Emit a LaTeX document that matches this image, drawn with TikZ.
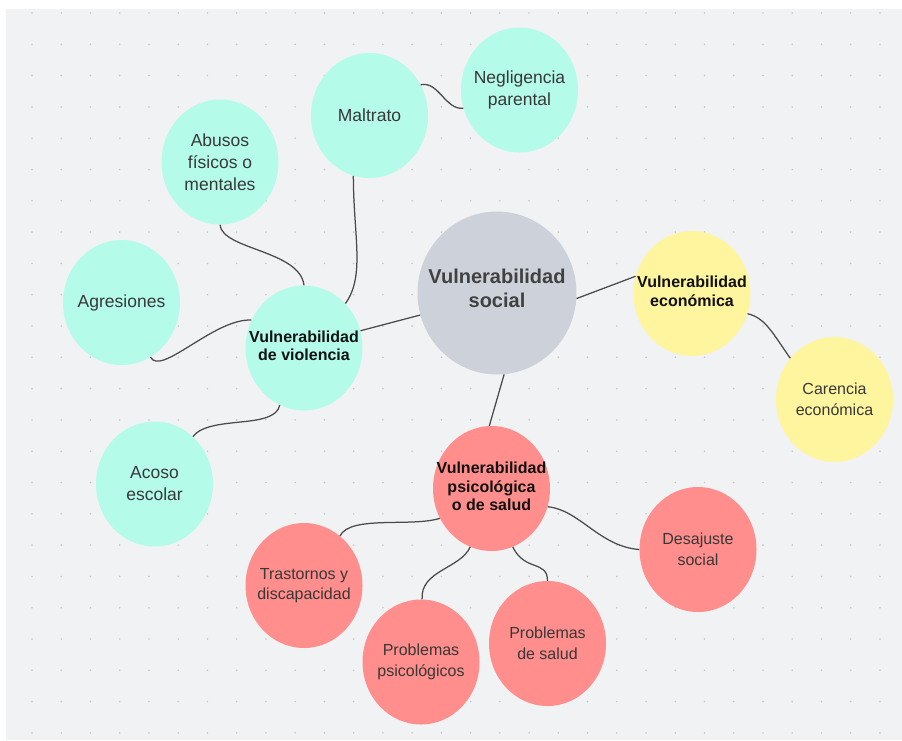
\documentclass[tikz,border=0pt]{standalone}
\usepackage{fontspec}
\setmainfont{Liberation Sans}
\usetikzlibrary{shapes.geometric}
\definecolor{bgpanel}{HTML}{F1F2F4}
\definecolor{dotc}{HTML}{C4C6CA}
\definecolor{mint}{HTML}{B4FBEA}
\definecolor{lemon}{HTML}{FFF59E}
\definecolor{salmon}{HTML}{FF8E8C}
\definecolor{slate}{HTML}{CDD2DA}
\definecolor{linec}{HTML}{4A4A4A}
\definecolor{txtc}{HTML}{383838}
\definecolor{boldc}{HTML}{111111}
\tikzset{
  bubble/.style={ellipse, draw=none, inner sep=0pt, minimum width=117pt, minimum height=125pt},
  tealb/.style={bubble, fill=mint},
  pinkb/.style={bubble, fill=salmon},
  yellb/.style={bubble, fill=lemon},
  lbl/.style={align=center, inner sep=0pt},
  ttxt/.style={label={[lbl, text=txtc, font=\fontsize{17.5}{22}\selectfont]center:{#1}}},
  ptxt/.style={label={[lbl, text=txtc, font=\fontsize{16}{20.5}\selectfont]center:{#1}}},
  htxt/.style={label={[lbl, yshift=2pt, text=boldc, font=\fontsize{16}{18.5}\selectfont\bfseries]center:{#1}}},
  ctxt/.style={label={[lbl, yshift=5pt, text=boldc!80!white, font=\fontsize{20}{24}\selectfont\bfseries]center:{#1}}},
  link/.style={draw=linec, line width=1.25pt},
}
\begin{document}
\begin{tikzpicture}[x=1pt, y=-1pt]
\useasboundingbox (0,0) rectangle (902,740);
\fill[white] (0,0) rectangle (902,740);
\fill[bgpanel] (6,9) rectangle (902,740);
\foreach \i in {0,...,29}{
  \foreach \j in {0,...,23}{
    \fill[dotc] ({32+29.24*\i},{13+31.3*\j}) circle (0.9pt);
  }
}
% nodes
\node[bubble, fill=slate, minimum width=159pt, minimum height=163pt, ctxt={Vulnerabilidad\\social}] (C) at (497,293) {};
\node[tealb, htxt={Vulnerabilidad\\de violencia}] (V) at (304,348) {};
\node[tealb, ttxt={Maltrato}] (M) at (369.5,115.5) {};
\node[tealb, ttxt={Negligencia\\parental}] (N) at (519.5,90) {};
\node[tealb, ttxt={Abusos\\físicos o\\mentales}] (A) at (220,162) {};
\node[tealb, ttxt={Agresiones}] (G) at (121.5,302.5) {};
\node[tealb, ttxt={Acoso\\escolar}] (K) at (154.5,484) {};
\node[yellb, htxt={Vulnerabilidad\\económica}] (E) at (692,293.5) {};
\node[yellb, ptxt={Carencia\\económica}] (R) at (834.5,399.5) {};
\node[pinkb, htxt={Vulnerabilidad\\psicológica\\o de salud}] (P) at (491.5,488.5) {};
\node[pinkb, ptxt={Trastornos y\\discapacidad}] (T) at (304,585.5) {};
\node[pinkb, ptxt={Problemas\\psicológicos}] (Q) at (421,662) {};
\node[pinkb, ptxt={Problemas\\de salud}] (S) at (547.5,643.5) {};
\node[pinkb, ptxt={Desajuste\\social}] (D) at (698,549.5) {};
% connectors
\draw[link] (C.196) -- (V.17);
\draw[link] (C.-4) -- (E.163);
\draw[link] (C.-85) -- (P.92);
\draw[link] (M.255) .. controls +(0,60) and +(20,-28) .. (V.47);
\draw[link] (A.270) .. controls +(2,25) and +(-4,-35) .. (V.90);
\draw[link] (G.298) .. controls +(10,20) and +(-37,-2) .. (V.152);
\draw[link] (K.51) .. controls +(17,-22) and +(-5,25) .. (V.247);
\draw[link] (M.31) .. controls +(18,-4) and +(-18,2) .. (N.198);
\draw[link] (E.340) .. controls +(18,4) and +(-17,-24) .. (R.137);
\draw[link] (T.54) .. controls +(10,-21) and +(-28,9) .. (P.210);
\draw[link] (P.250) .. controls +(-10,22) and +(-2,-29) .. (Q.89);
\draw[link] (P.290) .. controls +(12,25) and +(0,-21) .. (S.90);
\draw[link] (P.342) .. controls +(32,3) and +(-40,-3) .. (D.180);
\end{tikzpicture}
\end{document}
